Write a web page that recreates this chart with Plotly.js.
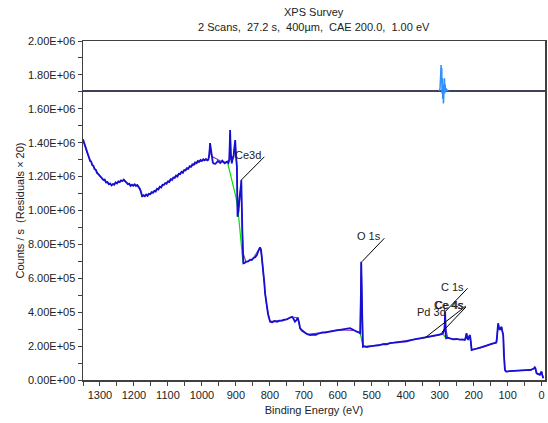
<!DOCTYPE html>
<html>
<head>
<meta charset="utf-8">
<script src="https://cdn.plot.ly/plotly-3.0.1.min.js"></script>
<style>html,body{margin:0;padding:0;background:#fff;}#chart{width:548px;height:423px;}</style>
</head>
<body>
<div id="chart"></div>
<script>
// Survey spectrum (binding energy eV, counts/s)
const specBE = [
1350,1347,1344,1341,1338,1335,1332,1329,1326,1323,
1319,1316,1312,1309,1305,1302,1298,1294,1290,1286,
1282,1278,1274,1270,1266,1262,1258,1254,1250,1246,
1242,1238,1234,1230,1226,1222,1218,1214,1210,1206,
1202,1198,1194,1190,1186,1182,1178,1176,1172,1168,
1164,1160,1156,1152,1148,1144,1140,1136,1132,1128,
1124,1120,1116,1112,1108,1104,1100,1096,1092,1088,
1084,1080,1076,1072,1068,1064,1060,1056,1052,1048,
1044,1040,1036,1032,1028,1024,1020,1016,1012,1008,
1004,1000,996,992,988,984,981,
978,976,974,971,968,966,960,953,946,940,933,926,922,919,917,915,912,910,907,905,902,900,897,895,892,890,887,885,884,883,881,879,878,
874,870,864,858,853,848,843,838,834,831,
829,826,824,821,819,816,814,811,809,805,
799,793,786,779,772,765,758,750,743,735,
730,726,722,718,714,711,705,700,696,690,
681,672,664,658,652,645,638,630,623,615,
607,598,590,581,572,564,556,550,544,538,
534,
532,531,530,528,526,522,515,506,496,486,
476,466,456,446,436,426,416,406,397,387,
377,368,358,348,339,329,320,310,304,299,
294,290,288,286,285,284,283,282,281,276,
270,265,260,250,240,233,226,224,222,221,
219,216,214,211,209,206,200,193,187,181,
174,167,160,152,145,139,134,132,130,128,
126,123,121,118,116,113,111,108,105,103,
95,85,75,64,55,45,34,28,24,22,
20,18,16,15,12,8,5,2,0,-2,
-5];
const specCts = [
1.420e6,1.400e6,1.385e6,1.360e6,1.345e6,1.318e6,1.312e6,1.292e6,1.290e6,1.268e6,
1.262e6,1.244e6,1.240e6,1.222e6,1.215e6,1.208e6,1.200e6,1.192e6,1.180e6,1.182e6,
1.166e6,1.168e6,1.155e6,1.160e6,1.148e6,1.156e6,1.152e6,1.166e6,1.160e6,1.172e6,
1.168e6,1.178e6,1.174e6,1.182e6,1.170e6,1.165e6,1.155e6,1.158e6,1.145e6,1.152e6,
1.146e6,1.154e6,1.144e6,1.150e6,1.138e6,1.126e6,1.100e6,1.081e6,1.090e6,1.084e6,
1.094e6,1.086e6,1.098e6,1.096e6,1.108e6,1.104e6,1.116e6,1.112e6,1.128e6,1.124e6,
1.140e6,1.136e6,1.152e6,1.150e6,1.162e6,1.158e6,1.172e6,1.168e6,1.184e6,1.180e6,
1.194e6,1.192e6,1.206e6,1.200e6,1.216e6,1.214e6,1.228e6,1.222e6,1.238e6,1.236e6,
1.250e6,1.246e6,1.262e6,1.258e6,1.272e6,1.270e6,1.284e6,1.280e6,1.292e6,1.288e6,
1.298e6,1.292e6,1.302e6,1.296e6,1.304e6,1.296e6,1.300e6,
1.330e6,1.398e6,1.360e6,1.320e6,1.285e6,1.278e6,1.276e6,1.292e6,1.280e6,1.294e6,1.278e6,1.288e6,1.280e6,1.300e6,1.475e6,1.340e6,1.278e6,1.300e6,1.317e6,1.360e6,1.416e6,1.330e6,1.258e6,0.963e6,1.000e6,1.060e6,1.101e6,1.150e6,1.180e6,1.022e6,0.880e6,0.748e6,0.688e6,
0.690e6,0.698e6,0.700e6,0.710e6,0.708e6,0.720e6,0.724e6,0.737e6,0.761e6,0.775e6,
0.783e6,0.770e6,0.737e6,0.680e6,0.630e6,0.570e6,0.511e6,0.470e6,0.432e6,0.385e6,
0.344e6,0.340e6,0.348e6,0.344e6,0.350e6,0.350e6,0.356e6,0.358e6,0.366e6,0.373e6,
0.360e6,0.344e6,0.352e6,0.368e6,0.340e6,0.305e6,0.290e6,0.282e6,0.276e6,0.270e6,
0.265e6,0.268e6,0.266e6,0.274e6,0.276e6,0.281e6,0.279e6,0.283e6,0.285e6,0.290e6,
0.291e6,0.294e6,0.297e6,0.302e6,0.302e6,0.306e6,0.298e6,0.290e6,0.285e6,0.280e6,
0.276e6,
0.500e6,0.698e6,0.600e6,0.380e6,0.196e6,0.198e6,0.194e6,0.199e6,0.200e6,0.205e6,
0.206e6,0.212e6,0.211e6,0.218e6,0.220e6,0.225e6,0.223e6,0.228e6,0.228e6,0.234e6,
0.236e6,0.242e6,0.246e6,0.250e6,0.252e6,0.256e6,0.258e6,0.262e6,0.265e6,0.268e6,
0.270e6,0.276e6,0.285e6,0.300e6,0.340e6,0.403e6,0.330e6,0.260e6,0.246e6,0.250e6,
0.246e6,0.244e6,0.240e6,0.242e6,0.238e6,0.240e6,0.236e6,0.245e6,0.262e6,0.276e6,
0.250e6,0.236e6,0.255e6,0.265e6,0.240e6,0.177e6,0.180e6,0.183e6,0.187e6,0.190e6,
0.195e6,0.200e6,0.206e6,0.210e6,0.214e6,0.217e6,0.220e6,0.240e6,0.300e6,0.335e6,
0.310e6,0.295e6,0.305e6,0.314e6,0.290e6,0.265e6,0.150e6,0.059e6,0.050e6,0.049e6,
0.052e6,0.054e6,0.055e6,0.055e6,0.057e6,0.058e6,0.059e6,0.062e6,0.066e6,0.070e6,
0.075e6,0.069e6,0.050e6,0.040e6,0.036e6,0.032e6,0.030e6,0.045e6,0.049e6,0.030e6,
0.010e6];

// Fit envelope (purple)
const envBE = [1350,1338,1326,1312,1300,1282,1266,1250,1231,1211,1190,1180,1176,1150,1100,1050,1000,981,976,971,940,926,920,917,914,907,902,897,895,890,885,883,879,870,850,829,824,814,809,800,760,735,718,711,690,650,600,550,534,531,528,526,500,450,400,350,300,290,286,284,282,276,250,226,221,216,211,206,180,140,132,128,123,118,113,108,103,60,30,20,15,5,0,-5];
const envCts = [1.415e6,1.340e6,1.285e6,1.235e6,1.204e6,1.166e6,1.152e6,1.162e6,1.178e6,1.150e6,1.148e6,1.115e6,1.085e6,1.100e6,1.170e6,1.240e6,1.295e6,1.300e6,1.380e6,1.320e6,1.286e6,1.285e6,1.300e6,1.450e6,1.320e6,1.317e6,1.400e6,1.260e6,0.980e6,1.040e6,1.150e6,1.030e6,0.750e6,0.695e6,0.715e6,0.780e6,0.735e6,0.515e6,0.435e6,0.346e6,0.350e6,0.372e6,0.366e6,0.306e6,0.270e6,0.278e6,0.296e6,0.292e6,0.278e6,0.690e6,0.480e6,0.198e6,0.202e6,0.217e6,0.230e6,0.247e6,0.266e6,0.285e6,0.300e6,0.395e6,0.300e6,0.246e6,0.240e6,0.238e6,0.272e6,0.238e6,0.262e6,0.180e6,0.190e6,0.215e6,0.222e6,0.330e6,0.298e6,0.312e6,0.268e6,0.060e6,0.050e6,0.057e6,0.060e6,0.072e6,0.042e6,0.032e6,0.047e6,0.012e6];

// Backgrounds (green)
const bgCe3dBE = [924,918,912,906,900,894,888,884,881,878];
const bgCe3dCts = [1.280e6,1.230e6,1.190e6,1.140e6,1.080e6,1.010e6,0.900e6,0.800e6,0.730e6,0.690e6];
const bgO1sBE = [535,533,531,529,527,525];
const bgO1sCts = [0.278e6,0.268e6,0.250e6,0.228e6,0.206e6,0.197e6];
const bgC1sBE = [293,290,287,284,281];
const bgC1sCts = [0.276e6,0.268e6,0.258e6,0.250e6,0.246e6];

// Residuals (x20, offset)
const resLineBE = [1350,-10];
const resLineCts = [1.705e6,1.705e6];
const resBE = [301,299,297,296,295,294,293,292,291,290,289,288,287,286,285,284,283,281,279,277,275];
const resCts = [1.705e6,1.720e6,1.800e6,1.858e6,1.760e6,1.840e6,1.690e6,1.780e6,1.660e6,1.740e6,1.632e6,1.770e6,1.700e6,1.780e6,1.690e6,1.745e6,1.700e6,1.720e6,1.705e6,1.712e6,1.705e6];

// Peak labels
const peakLabels = ['Ce3d','O 1s','C 1s','Ce 4s','Pd 3d'];
const lineTopBE = [816,463,218,223,223];
const lineTopCts = [1.317e6,0.836e6,0.541e6,0.430e6,0.436e6];
const lineTipBE = [884,529,284,293,340];
const lineTipCts = [1.180e6,0.698e6,0.403e6,0.283e6,0.254e6];
const textBE = [819,467,223,225.5,275.5];
const textCts = [1.330e6,0.848e6,0.551e6,0.440e6,0.402e6];

// Titles
const titleLines = ['XPS Survey', '2 Scans,  27.2 s,  400µm,  CAE 200.0,  1.00 eV'];

// Axis ticks
const yTickVals = [0,2e5,4e5,6e5,8e5,1e6,1.2e6,1.4e6,1.6e6,1.8e6,2e6];
const yTickText = ['0.00E+00','2.00E+05','4.00E+05','6.00E+05','8.00E+05','1.00E+06','1.20E+06','1.40E+06','1.60E+06','1.80E+06','2.00E+06'];
const xTickVals = [1300,1200,1100,1000,900,800,700,600,500,400,300,200,100,0];

const FONT = 'Liberation Sans, Arial, sans-serif';
const TXT = '#222';

const traces = [
  {x: resLineBE, y: resLineCts, mode:'lines', line:{color:'#000022', width:1.6}, hoverinfo:'skip'},
  {x: resBE, y: resCts, mode:'lines', line:{color:'#2f8fff', width:1.5}, hoverinfo:'skip'},
  {x: envBE, y: envCts, mode:'lines', line:{color:'#8a3cb0', width:1.2}},
  {x: bgCe3dBE, y: bgCe3dCts, mode:'lines', line:{color:'#00e000', width:1.2}},
  {x: bgO1sBE, y: bgO1sCts, mode:'lines', line:{color:'#00e000', width:1.2}},
  {x: bgC1sBE, y: bgC1sCts, mode:'lines', line:{color:'#00e000', width:1.2}},
  {x: specBE, y: specCts, mode:'lines', line:{color:'#1410d2', width:1.8}}
];

const shapes = peakLabels.map((_, i) => ({
  type:'line', xref:'x', yref:'y',
  x0: lineTipBE[i], y0: lineTipCts[i], x1: lineTopBE[i], y1: lineTopCts[i],
  line:{color:'#000', width:1}
}));

const annotations = peakLabels.map((t, i) => ({
  x: textBE[i], y: textCts[i], xref:'x', yref:'y', text: t, showarrow:false,
  xanchor:'right', yanchor:'middle', font:{family:FONT, size:11, color:TXT}
}));
annotations.push({x: textBE[3], y: textCts[3], xref:'x', yref:'y', text: peakLabels[3], showarrow:false,
  xanchor:'right', yanchor:'middle', xshift:0.8, font:{family:FONT, size:11, color:TXT}});
annotations.push({x:0.5, y:1.0855, xref:'paper', yref:'paper', text:titleLines[0], showarrow:false,
  xanchor:'center', yanchor:'middle', font:{family:FONT, size:11, color:TXT}});
annotations.push({x:0.5, y:1.041, xref:'paper', yref:'paper', text:titleLines[1], showarrow:false,
  xanchor:'center', yanchor:'middle', font:{family:FONT, size:11, color:TXT}});

const layout = {
  width:548, height:423,
  margin:{l:83, r:3, t:41, b:43},
  paper_bgcolor:'#fff', plot_bgcolor:'#fff',
  showlegend:false,
  font:{family:FONT, size:11, color:TXT},
  xaxis:{range:[1350,-10], showgrid:false, zeroline:false, showline:true, linecolor:'#404040', linewidth:1.5, mirror:true,
    ticks:'outside', ticklen:4, tickcolor:'#404040', tickvals:xTickVals, ticktext:xTickVals.map(String),
    minor:{dtick:50, ticks:'outside', ticklen:4, tickcolor:'#404040', showgrid:false},
    tickfont:{family:FONT, size:11, color:TXT},
    title:{text:'Binding Energy (eV)', font:{family:FONT, size:11, color:TXT}, standoff:6}},
  yaxis:{range:[0,2e6], showgrid:false, zeroline:false, showline:true, linecolor:'#404040', linewidth:1.5, mirror:true,
    ticks:'outside', ticklen:4, tickcolor:'#404040', tickvals:yTickVals, ticktext:yTickText,
    minor:{dtick:1e5, ticks:'outside', ticklen:4, tickcolor:'#404040', showgrid:false},
    tickfont:{family:FONT, size:11, color:TXT},
    title:{text:'Counts / s  (Residuals × 20)', font:{family:FONT, size:11, color:TXT}, standoff:1}},
  shapes: shapes,
  annotations: annotations
};

Plotly.newPlot('chart', traces, layout, {staticPlot:true, displayModeBar:false});
</script>
</body>
</html>
